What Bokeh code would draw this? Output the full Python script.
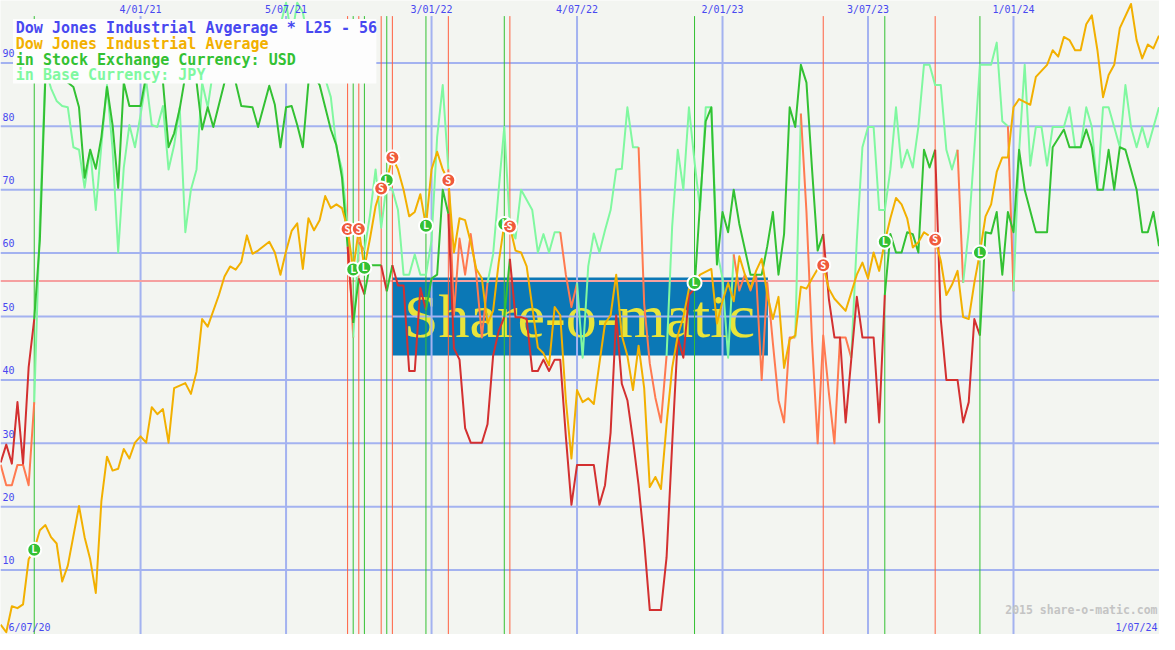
from bokeh.plotting import figure
from bokeh.models import Range1d
from bokeh.embed import file_html
from bokeh.resources import INLINE
from bokeh.core.properties import value

# ---------------- data (weekly, week 0 = 6/07/20) ----------------
date_ticks = [26, 52, 78, 104, 130, 156, 182]
date_labels = ["4/01/21", "5/07/21", "3/01/22", "4/07/22", "2/01/23", "3/07/23", "1/01/24"]
first_label = "6/07/20"
last_label = "1/07/24"
y_ticks = [10, 20, 30, 40, 50, 60, 70, 80, 90]
threshold = 55.6

price_weeks = [1, 2, 3, 4, 5, 6, 7, 8, 9, 10, 11, 12, 13, 15, 16, 17, 18, 19, 20, 21, 22, 23, 24, 25, 26,
               27, 28, 29, 30, 31, 32, 33, 34, 35, 36, 37, 38, 40, 41, 42, 43, 44, 45, 46, 47, 49, 50, 51,
               52, 53, 54, 55, 56, 57, 58, 59, 60, 61, 62, 63, 64, 65, 66, 67, 68, 69, 70, 71, 72, 73, 74,
               75, 76, 77, 78, 79, 80, 81, 82, 83, 84, 85, 86, 87, 88, 89, 90, 91, 92, 93, 94, 95, 96, 97,
               98, 99, 100, 101, 102, 103, 104, 105, 106, 107, 108, 109, 110, 111, 112, 113, 114, 115, 116,
               117, 118, 119, 120, 121, 122, 123, 124, 125, 126, 128, 129, 130, 131, 132, 133, 134, 135,
               136, 137, 138, 139, 140, 141, 142, 143, 144, 145, 146, 147, 148, 149, 150, 152, 154, 155,
               156, 157, 158, 159, 160, 161, 162, 163, 164, 165, 166, 168, 169, 170, 171, 172, 173, 174,
               175, 176, 177, 178, 179, 180, 181, 182, 183, 185, 186, 188, 189, 190, 191, 192, 193, 194,
               195, 196, 197, 198, 199, 200, 201, 203, 204, 205, 206, 207, 208]
price_vals = [1.4, 0.2, 4.3, 4.0, 4.6, 11.7, 13.2, 16.3, 17.1, 15.2, 14.2, 8.2, 10.7, 20.1, 15.2, 11.7, 6.4,
              20.9, 27.9, 25.7, 26.0, 29.1, 27.6, 30.1, 31.1, 30.1, 35.7, 34.6, 35.4, 30.1, 38.7, 39.1,
              39.5, 37.8, 41.3, 49.6, 48.4, 53.4, 56.3, 57.9, 57.4, 58.6, 62.8, 59.9, 60.4, 61.8, 60.1,
              56.6, 60.3, 63.5, 64.7, 57.5, 65.5, 63.6, 65.2, 69.0, 67.1, 67.7, 67.1, 63.8, 57.4, 63.8,
              57.7, 62.3, 67.4, 70.2, 71.5, 75.1, 73.2, 70.0, 65.8, 66.5, 69.3, 64.3, 73.2, 76.0, 73.2,
              71.5, 60.1, 65.5, 65.2, 61.7, 57.5, 56.0, 48.9, 50.9, 58.5, 64.6, 64.2, 60.4, 60.1, 57.9,
              51.5, 45.1, 44.2, 42.3, 51.5, 50.2, 36.8, 27.6, 38.4, 36.5, 37.1, 36.2, 42.6, 48.9, 50.2,
              56.6, 47.0, 43.8, 38.4, 45.4, 38.7, 23.1, 24.7, 22.8, 33.0, 41.9, 47.0, 49.9, 54.4, 55.3,
              56.6, 57.5, 48.9, 52.4, 55.3, 52.4, 59.5, 56.6, 54.4, 57.2, 59.1, 53.4, 49.6, 53.1, 41.9,
              46.4, 47.0, 54.7, 54.4, 56.0, 57.5, 58.1, 54.4, 52.8, 50.9, 56.6, 58.5, 56.0, 60.1, 57.2,
              61.8, 65.5, 68.7, 67.7, 65.5, 60.9, 61.7, 63.3, 62.1, 58.8, 53.4, 55.0, 57.2, 49.9, 49.6,
              55.3, 60.1, 65.8, 67.7, 72.8, 75.1, 75.1, 83.0, 84.3, 83.4, 87.8, 89.7, 92.0, 91.0, 94.1,
              93.6, 92.0, 92.0, 96.1, 97.5, 92.0, 84.6, 88.1, 89.7, 95.5, 99.3, 93.6, 90.7, 92.9, 92.3,
              94.3]

usd_weeks = [1, 2, 3, 4, 5, 6, 7, 8, 9, 10, 11, 12, 13, 14, 15, 16, 17, 18, 19, 20, 21, 22, 23, 24, 26,
             27, 28, 29, 30, 31, 32, 33, 34, 35, 36, 37, 38, 39, 40, 41, 42, 43, 44, 46, 47, 49, 50, 51,
             52, 53, 54, 55, 56, 57, 58, 59, 60, 61, 62, 63, 64, 65, 66, 67, 68, 69, 70, 71, 72, 73, 74,
             75, 76, 77, 78, 79, 80, 81, 82, 83, 84, 85, 87, 88, 89, 90, 91, 92, 93, 94, 95, 96, 97, 98,
             99, 100, 101, 102, 103, 104, 107, 108, 109, 110, 111, 112, 113, 114, 115, 116, 117, 119,
             120, 121, 122, 123, 124, 125, 126, 127, 128, 129, 130, 131, 132, 133, 135, 137, 138, 139,
             140, 141, 142, 143, 144, 145, 146, 147, 148, 149, 150, 151, 152, 153, 154, 155, 157, 158,
             159, 160, 161, 162, 163, 164, 165, 166, 167, 168, 169, 170, 172, 173, 174, 175, 176, 177,
             178, 179, 180, 181, 182, 183, 184, 186, 188, 189, 191, 192, 194, 195, 196, 197, 198, 199,
             200, 201, 202, 204, 205, 206, 207, 208]
usd_vals = [27.0, 29.8, 26.8, 36.5, 26.8, 42.0, 49.6, 62.0, 88.0, 90.0, 89.0, 88.0, 86.9, 86.2, 83.0, 71.9,
            76.3, 73.3, 78.3, 86.2, 80.2, 70.3, 86.9, 83.2, 83.2, 88.0, 91.0, 90.0, 87.0, 76.7, 78.9,
            82.8, 88.0, 89.0, 87.0, 79.5, 83.0, 79.9, 83.4, 86.9, 88.0, 86.9, 83.2, 83.0, 79.9, 86.4,
            83.4, 76.7, 83.0, 83.2, 80.2, 76.7, 86.9, 88.0, 86.5, 83.0, 79.5, 77.0, 71.9, 61.0, 49.0,
            56.0, 53.5, 58.1, 58.1, 58.1, 54.0, 58.1, 54.9, 54.9, 41.4, 41.4, 54.5, 51.0, 56.0, 56.6,
            70.0, 66.2, 45.0, 43.2, 32.4, 30.1, 30.1, 33.0, 43.8, 47.7, 49.9, 59.1, 49.9, 49.9, 49.6,
            41.4, 41.4, 43.2, 41.4, 43.2, 43.2, 31.1, 20.3, 26.6, 26.6, 20.3, 23.4, 31.7, 50.2, 39.4,
            36.8, 30.5, 23.4, 14.5, 3.7, 3.7, 12.0, 29.8, 46.7, 43.5, 53.4, 54.4, 68.1, 80.8, 83.0,
            58.2, 66.5, 63.3, 70.0, 64.6, 56.6, 56.6, 61.1, 66.5, 56.6, 63.0, 83.0, 79.9, 89.7, 86.9,
            73.2, 60.4, 63.0, 52.8, 46.7, 46.7, 33.3, 43.2, 53.1, 46.7, 46.7, 33.3, 53.4, 63.0, 60.1,
            60.1, 63.3, 63.0, 60.1, 76.3, 73.5, 76.3, 49.6, 40.0, 40.0, 33.3, 36.5, 49.6, 47.0, 63.3,
            63.1, 66.5, 56.6, 66.5, 63.3, 76.3, 70.0, 63.3, 63.3, 76.7, 79.5, 76.7, 76.7, 79.5, 76.7,
            70.0, 70.0, 76.3, 70.0, 76.7, 76.3, 70.0, 63.3, 63.3, 66.5, 61.1]

jpy_weeks = [1, 2, 3, 4, 5, 6, 7, 8, 9, 10, 11, 12, 13, 14, 15, 16, 17, 18, 19, 20, 21, 22, 23, 24, 25,
             26, 27, 28, 29, 30, 31, 32, 33, 34, 35, 36, 37, 38, 39, 40, 41, 42, 43, 44, 45, 46, 47, 48,
             49, 50, 51, 52, 53, 54, 55, 56, 57, 58, 59, 60, 61, 62, 63, 64, 65, 66, 67, 68, 69, 70, 71,
             72, 73, 74, 75, 76, 77, 78, 79, 80, 81, 82, 83, 84, 85, 86, 87, 88, 89, 90, 91, 92, 93, 94,
             96, 97, 98, 99, 100, 101, 102, 103, 104, 105, 106, 107, 108, 109, 110, 111, 112, 113, 114,
             115, 116, 117, 118, 119, 120, 121, 122, 123, 124, 125, 126, 127, 128, 129, 130, 131, 132,
             133, 134, 135, 136, 137, 138, 139, 140, 141, 142, 143, 144, 145, 146, 147, 148, 149, 150,
             151, 152, 153, 154, 155, 156, 157, 158, 159, 160, 161, 162, 163, 164, 165, 166, 167, 168,
             169, 170, 171, 172, 173, 174, 175, 176, 178, 179, 180, 181, 182, 183, 184, 185, 186, 187,
             188, 189, 191, 192, 193, 194, 195, 196, 197, 198, 199, 200, 201, 202, 203, 204, 205, 206,
             208]
jpy_vals = [26.6, 23.4, 23.4, 26.6, 26.6, 23.4, 36.5, 65.0, 89.0, 86.0, 84.0, 83.2, 83.0, 76.7, 76.3, 70.3,
            76.3, 66.8, 77.0, 86.5, 76.3, 60.1, 73.5, 80.2, 76.7, 81.8, 87.2, 80.2, 79.9, 83.2, 73.2,
            77.0, 83.0, 63.3, 70.0, 73.2, 86.9, 83.0, 89.0, 92.0, 90.0, 94.0, 91.0, 89.0, 92.0, 90.0,
            93.0, 91.0, 94.0, 90.0, 96.0, 99.5, 94.0, 99.5, 98.0, 93.0, 90.0, 89.0, 87.5, 84.6, 76.7,
            73.2, 64.2, 46.7, 61.7, 60.4, 66.0, 73.2, 64.0, 71.0, 70.0, 66.8, 56.6, 56.6, 59.8, 56.6,
            56.6, 62.0, 78.3, 86.5, 73.2, 50.2, 62.3, 56.6, 63.0, 56.6, 46.7, 55.3, 59.8, 70.0, 79.9,
            64.2, 62.3, 70.0, 66.8, 60.1, 63.0, 60.1, 63.3, 63.3, 56.6, 51.5, 55.3, 43.5, 57.9, 63.1,
            60.1, 63.6, 66.8, 73.2, 73.3, 83.0, 76.7, 76.7, 52.0, 42.6, 37.2, 33.3, 43.8, 64.2, 76.3,
            70.0, 83.0, 74.4, 66.8, 83.0, 83.0, 60.4, 56.0, 43.5, 59.8, 54.1, 56.6, 54.1, 56.6, 40.0,
            55.3, 45.8, 36.8, 33.3, 46.7, 46.7, 82.0, 66.5, 46.0, 30.0, 47.0, 38.0, 30.0, 46.7, 46.7,
            43.5, 62.0, 76.7, 79.9, 79.9, 66.8, 66.8, 73.2, 83.0, 73.5, 76.3, 73.5, 79.9, 89.7, 89.7,
            86.5, 86.5, 76.3, 73.2, 76.3, 55.3, 63.6, 76.3, 89.7, 89.7, 93.2, 80.8, 80.0, 54.0, 76.0,
            89.7, 73.8, 79.9, 79.9, 73.8, 79.9, 79.9, 83.0, 76.7, 76.7, 83.0, 79.9, 70.0, 83.0, 83.0,
            79.9, 76.7, 86.5, 79.9, 76.7, 79.9, 76.7, 83.0]
jpy_sell_spans = [(0, 7), (63, 64), (65, 66), (81, 88), (101, 104), (115, 120), (132, 143),
                  (144, 153), (172, 173), (181, 182)]

buy_weeks = [7, 64, 66, 70, 77, 91, 125, 159, 176]
sell_weeks = [63, 65, 69, 71, 81, 92, 148, 168]

# ---------------- geometry of the reference picture ----------------
W, H = 1159, 634
REF_W, REF_H = 1175, 650
PX_PER_WEEK = 5.673
WEEK0_PX = -5.5
PX_PER_UNIT = 6.5
ZERO_PY = 649.0


def px2x(px):
    return (px - WEEK0_PX) / PX_PER_WEEK


def py2y(py):
    return (ZERO_PY - py) / PX_PER_UNIT


x_lo, x_hi = px2x(0), px2x(REF_W)
y_lo, y_hi = py2y(REF_H), py2y(0)

BG = "#f3f5f1"
GRID = "#a3b2f0"
BLUE_TXT = "#4848f0"
ORANGE = "#f2b000"
GREEN = "#33c133"
RED = "#d33030"
LGREEN = "#80f8a0"
SALMON = "#ff7a50"
VRED = "#ff6040"
VGREEN = "#33c133"
MONO = value("DejaVu Sans Mono")

p = figure(width=W, height=H, output_backend="svg", toolbar_location=None,
           x_range=Range1d(x_lo, x_hi), y_range=Range1d(y_lo, y_hi),
           min_border=0, min_border_left=0, min_border_right=0,
           min_border_top=0, min_border_bottom=0)
p.axis.visible = False
p.grid.visible = False
p.outline_line_color = None
p.background_fill_color = BG
p.border_fill_color = BG

# watermark box
p.quad(left=[px2x(397)], right=[px2x(778)], top=[py2y(284)], bottom=[py2y(364)],
       fill_color="#0b78b6", line_color=None)
p.text(x=[px2x(587)], y=[py2y(323)], text=["Share-o-matic"], text_align="center",
       text_baseline="middle", text_font=value("Liberation Serif"), text_font_size="62px",
       text_color="#e8e43a")

# grid
p.segment(x0=[x_lo] * len(y_ticks), x1=[x_hi] * len(y_ticks), y0=y_ticks, y1=y_ticks,
          line_color=GRID, line_width=2)
top_y = py2y(16)
p.segment(x0=date_ticks, x1=date_ticks, y0=[y_lo] * len(date_ticks), y1=[top_y] * len(date_ticks),
          line_color=GRID, line_width=2)

# threshold line
p.segment(x0=[x_lo], x1=[x_hi], y0=[threshold], y1=[threshold], line_color="#f5a0a0", line_width=2)

# signal verticals
p.segment(x0=sell_weeks, x1=sell_weeks, y0=[y_lo] * len(sell_weeks), y1=[top_y] * len(sell_weeks),
          line_color=VRED, line_width=1)
p.segment(x0=buy_weeks, x1=buy_weeks, y0=[y_lo] * len(buy_weeks), y1=[top_y] * len(buy_weeks),
          line_color=VGREEN, line_width=1)


def state_spans(buys, sells, start):
    spans = []
    events = sorted([(w, "B") for w in buys] + [(w, "S") for w in sells])
    sell_from = start
    for w, kind in events:
        if kind == "B" and sell_from is not None:
            spans.append((sell_from, w))
            sell_from = None
        elif kind == "S" and sell_from is None:
            sell_from = w
    if sell_from is not None:
        spans.append((sell_from, 1e9))
    return spans


def colored_runs(weeks, vals, spans, c_on, c_off):
    xs, ys, cs = [], [], []
    cx, cy, cc = [weeks[0]], [vals[0]], None
    for i in range(len(weeks) - 1):
        mid = 0.5 * (weeks[i] + weeks[i + 1])
        c = c_off if any(a <= mid <= b for a, b in spans) else c_on
        if cc is None:
            cc = c
        if c != cc:
            xs.append(cx); ys.append(cy); cs.append(cc)
            cx, cy, cc = [weeks[i]], [vals[i]], c
        cx.append(weeks[i + 1]); cy.append(vals[i + 1])
    xs.append(cx); ys.append(cy); cs.append(cc)
    return xs, ys, cs


usd_spans = state_spans(buy_weeks, sell_weeks, 0)

xs, ys, cs = colored_runs(jpy_weeks, jpy_vals, jpy_sell_spans, LGREEN, SALMON)
p.multi_line(xs=xs, ys=ys, line_color=cs, line_width=2, line_join="round")
xs, ys, cs = colored_runs(usd_weeks, usd_vals, usd_spans, GREEN, RED)
p.multi_line(xs=xs, ys=ys, line_color=cs, line_width=2, line_join="round")
p.line(price_weeks, price_vals, line_color=ORANGE, line_width=2, line_join="round")

# signal markers on the price line
price_at = dict(zip(price_weeks, price_vals))
by = [price_at[w] for w in buy_weeks]
sy = [price_at[w] for w in sell_weeks]
p.scatter(buy_weeks, by, size=14, fill_color=GREEN, line_color="white", line_width=2)
p.scatter(sell_weeks, sy, size=14, fill_color="#f05a3c", line_color="white", line_width=2)
p.text(buy_weeks, by, text=["L"] * len(buy_weeks), text_align="center", text_baseline="middle",
       text_font=MONO, text_font_size="10px", text_font_style="bold", text_color="white")
p.text(sell_weeks, sy, text=["S"] * len(sell_weeks), text_align="center", text_baseline="middle",
       text_font=MONO, text_font_size="10px", text_font_style="bold", text_color="white")

# legend box
p.quad(left=[px2x(12.7)], right=[px2x(381)], top=[py2y(19)], bottom=[py2y(85)],
       fill_color="#fdfdfd", line_color=None)
leg_texts = ["Dow Jones Industrial Avgerage * L25 - 56", "Dow Jones Industrial Average",
             "in Stock Exchange Currency: USD", "in Base Currency: JPY"]
leg_colors = [BLUE_TXT, ORANGE, GREEN, LGREEN]
leg_py = [28.5, 44.5, 60.5, 76.5]
p.text(x=[px2x(15.5)] * 4, y=[py2y(v) for v in leg_py], text=leg_texts, text_color=leg_colors,
       text_baseline="middle", text_align="left", text_font=MONO, text_font_size="15px",
       text_font_style="bold")

# tick labels
p.text(x=[px2x(2)] * len(y_ticks), y=[t + 0.9 for t in y_ticks], text=[str(t) for t in y_ticks],
       text_baseline="bottom", text_align="left", text_font=MONO, text_font_size="10px",
       text_color=BLUE_TXT)
p.text(x=date_ticks, y=[py2y(9)] * len(date_ticks), text=date_labels, text_align="center",
       text_baseline="middle", text_font=MONO, text_font_size="10px", text_color=BLUE_TXT)
p.text(x=[px2x(8)], y=[py2y(642.5)], text=[first_label], text_align="left", text_baseline="middle",
       text_font=MONO, text_font_size="10px", text_color=BLUE_TXT)
p.text(x=[px2x(1173)], y=[py2y(642.5)], text=[last_label], text_align="right", text_baseline="middle",
       text_font=MONO, text_font_size="10px", text_color=BLUE_TXT)
p.text(x=[px2x(1173)], y=[py2y(625)], text=["2015 share-o-matic.com"], text_align="right",
       text_baseline="middle", text_font=MONO, text_font_size="11.5px", text_font_style="bold",
       text_color="#c4c4c4")

open("out.html", "w").write(file_html(p, INLINE))
